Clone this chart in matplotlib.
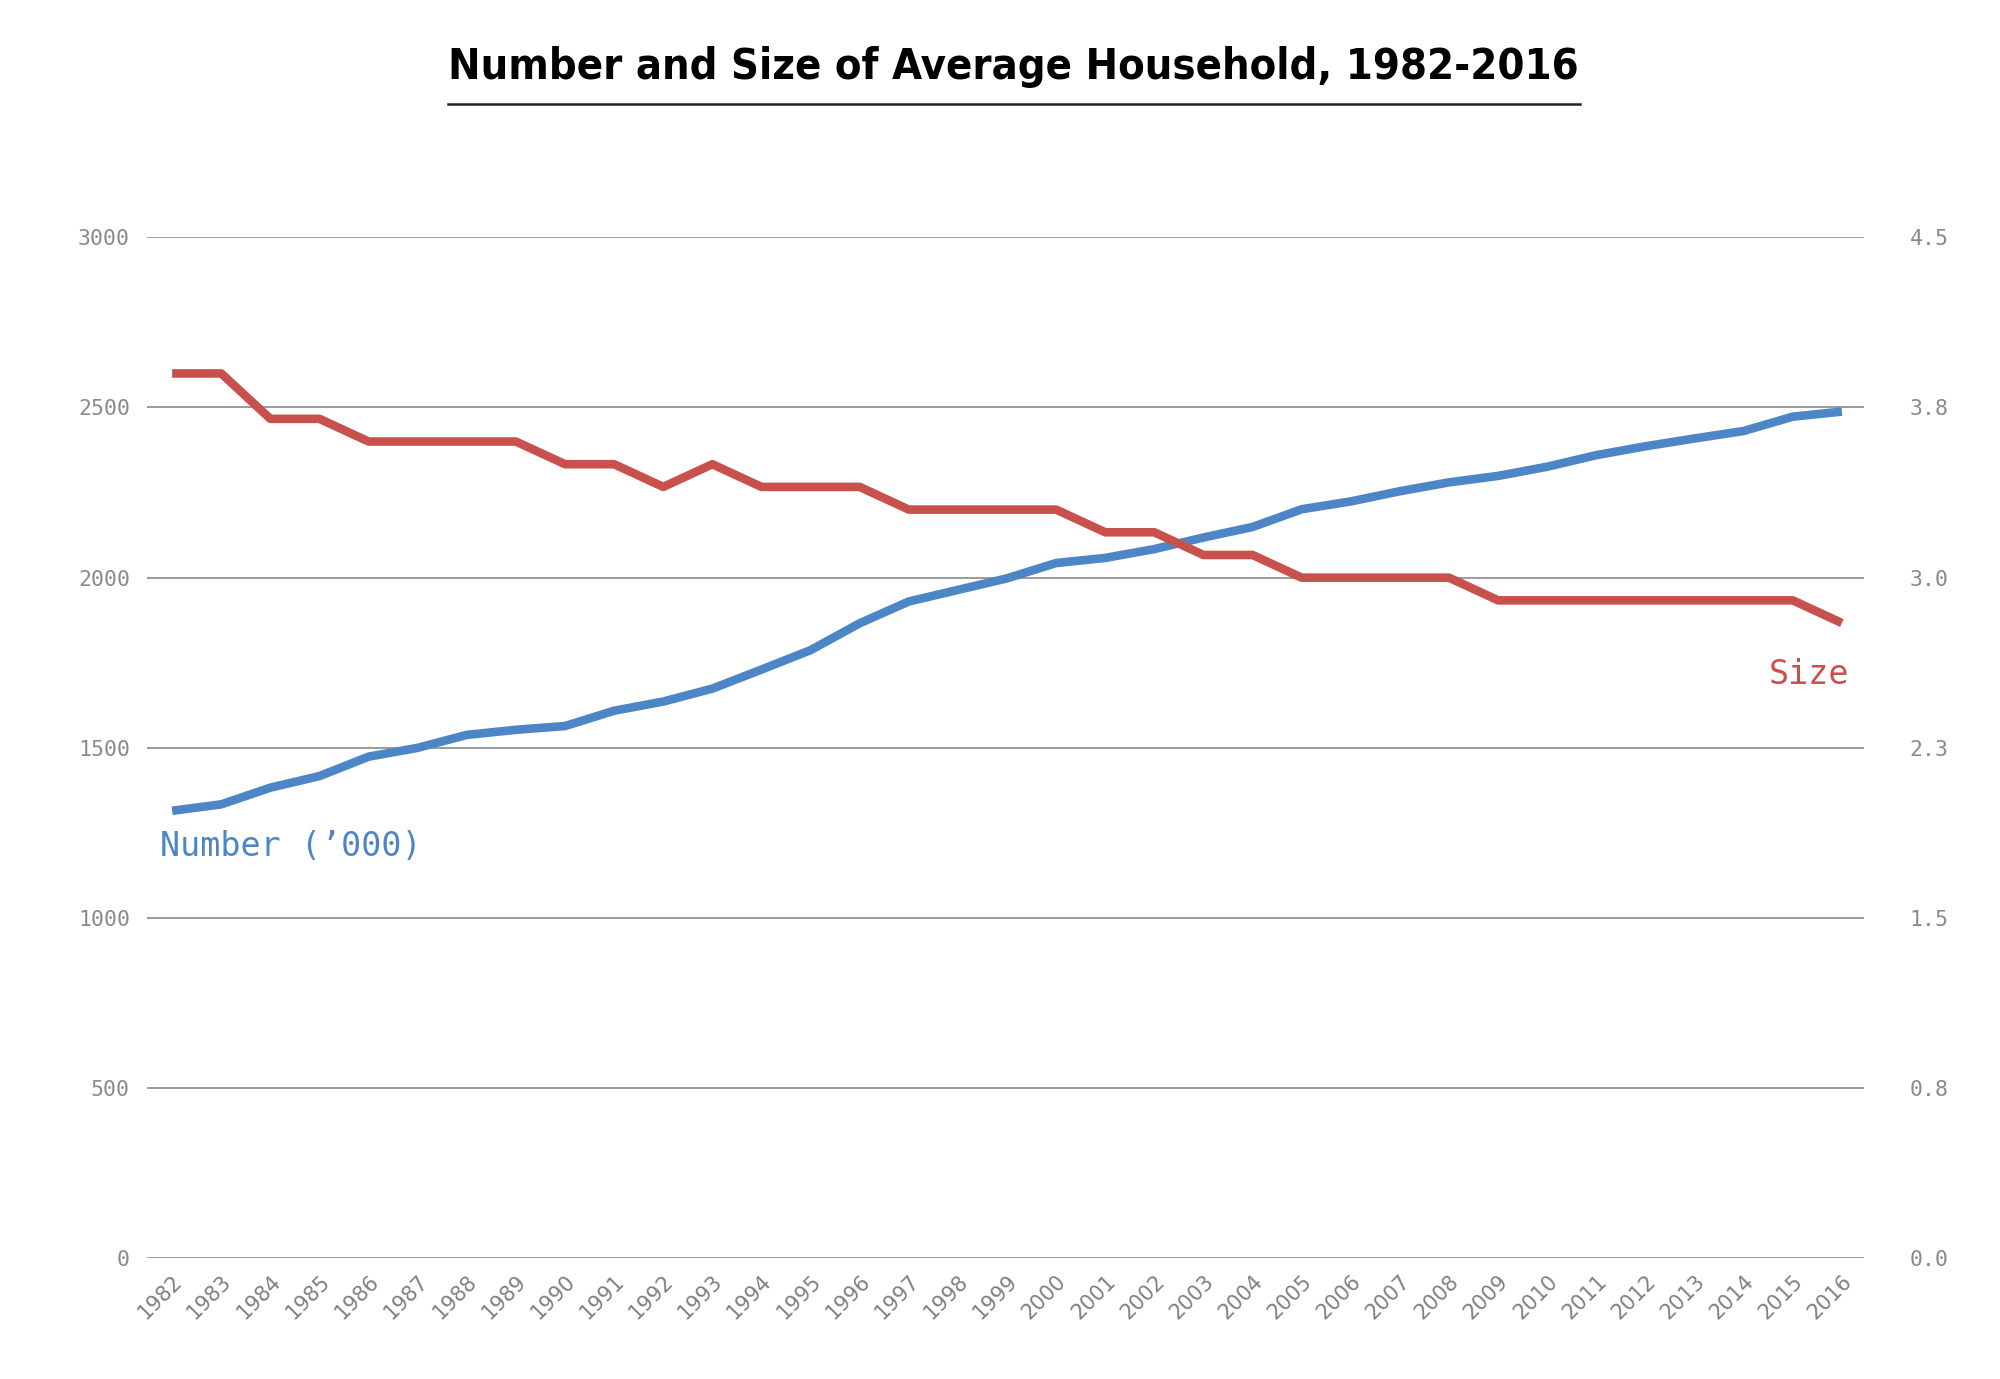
import matplotlib
matplotlib.use('Agg')
import matplotlib.pyplot as plt
from matplotlib.lines import Line2D

years = list(range(1982, 2017))
number = [1315, 1334, 1383, 1417, 1474, 1500, 1538, 1553, 1564, 1609,
          1636, 1674, 1730, 1787, 1866, 1930, 1964, 1998, 2043, 2058,
          2084, 2118, 2149, 2201, 2224, 2254, 2280, 2299, 2326, 2360,
          2386, 2409, 2431, 2473, 2488]
size = [3.9, 3.9, 3.7, 3.7, 3.6, 3.6, 3.6, 3.6, 3.5, 3.5,
        3.4, 3.5, 3.4, 3.4, 3.4, 3.3, 3.3, 3.3, 3.3, 3.2,
        3.2, 3.1, 3.1, 3.0, 3.0, 3.0, 3.0, 2.9, 2.9, 2.9,
        2.9, 2.9, 2.9, 2.9, 2.8]

left_ticks = [0, 500, 1000, 1500, 2000, 2500, 3000]
right_ticks = [0, 0.75, 1.5, 2.25, 3.0, 3.75, 4.5]
right_labels = ['0.0', '0.8', '1.5', '2.3', '3.0', '3.8', '4.5']

blue = '#4d86c6'
red = '#c9514d'
tick_grey = '#8a8a8a'

fig = plt.figure(figsize=(20, 13.79), dpi=100)
ax = fig.add_axes([0.0733, 0.0875, 0.932 - 0.0733, 0.8279 - 0.0875])
ax2 = ax.twinx()

ax.plot(years, number, color=blue, lw=6.2, solid_capstyle='butt', zorder=3)
ax2.plot(years, size, color=red, lw=6.2, solid_capstyle='butt', zorder=3)

ax.set_xlim(1981.48, 2016.45)
ax.set_ylim(0, 3000)
ax2.set_ylim(0, 4.5)

ax.set_yticks(left_ticks)
ax.set_yticklabels([str(t) for t in left_ticks], family='DejaVu Sans Mono',
                   fontsize=15.5, color=tick_grey)
ax2.set_yticks(right_ticks)
ax2.set_yticklabels(right_labels, family='DejaVu Sans Mono',
                    fontsize=15.5, color=tick_grey)
ax.set_xticks(years)
ax.set_xticklabels([str(y) for y in years], rotation=45, ha='right',
                   rotation_mode='anchor', fontsize=15, color='#808080')

ax.tick_params(axis='y', length=0, pad=12)
ax2.tick_params(axis='y', length=0, pad=33)
ax.tick_params(axis='x', length=0, pad=9)

ax.grid(axis='y', color='#8a8a8a', lw=1.2)
ax.set_axisbelow(True)
for a in (ax, ax2):
    for s in a.spines.values():
        s.set_visible(False)

ax.text(1981.75, 1210, 'Number (\u2019000)', color=blue, fontsize=24,
        family='DejaVu Sans Mono', ha='left', va='center')
ax.text(2016.15, 1715, 'Size', color=red, fontsize=24,
        family='DejaVu Sans Mono', ha='right', va='center')

# title in a condensed face, fitted to the width of the underline
title = fig.text(0.5065, 0.9516, 'Number and Size of Average Household, 1982-2016',
                 family=['DejaVu Sans'], fontstretch='condensed',
                 fontweight='bold', fontsize=34, ha='center', va='center')
fig.canvas.draw()
w = title.get_window_extent().width
title.set_fontsize(34 * 1132 / w)
fig.add_artist(Line2D([0.2238, 0.790], [0.9247, 0.9247], color='#222222',
                      lw=1.8, transform=fig.transFigure))

fig.savefig('out.png', dpi=100, facecolor='white')
